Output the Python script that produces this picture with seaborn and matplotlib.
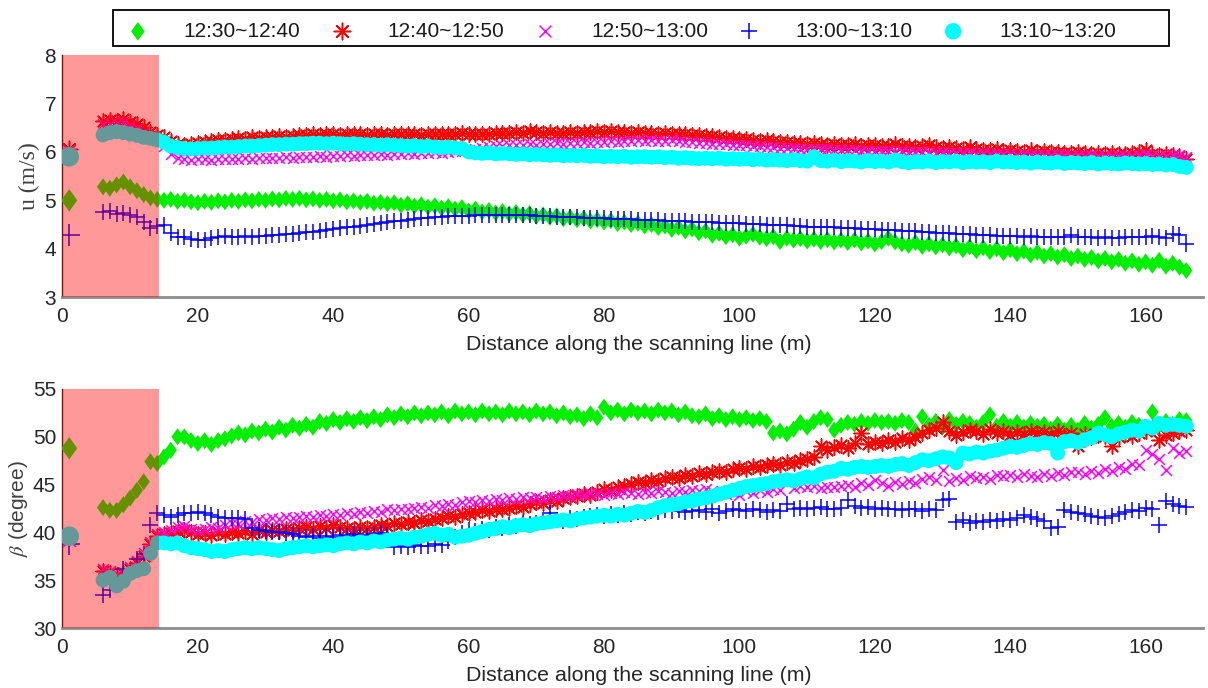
import numpy as np
import matplotlib
matplotlib.use("Agg")
import matplotlib.pyplot as plt
from matplotlib.patches import Rectangle
import seaborn as sns

# ---------------- data ----------------
dist = [1.0] + list(range(6, 167))  # metres along the scanning line

labels = ["12:30~12:40", "12:40~12:50", "12:50~13:00", "13:00~13:10", "13:10~13:20"]

u_1230 = [5.00,
    5.28, 5.25, 5.32, 5.38, 5.28, 5.20, 5.12, 5.05, 5.02, 5.00,
    5.02, 4.98, 5.00, 4.97, 4.95, 4.98, 4.96, 4.99, 4.97, 5.00,
    4.98, 5.01, 4.99, 5.02, 5.00, 5.03, 5.01, 5.04, 5.02, 5.04,
    5.01, 5.03, 5.00, 5.02, 4.99, 5.01, 4.97, 4.99, 4.96, 4.98,
    4.94, 4.96, 4.93, 4.95, 4.90, 4.93, 4.88, 4.91, 4.86, 4.89,
    4.84, 4.87, 4.82, 4.85, 4.78, 4.82, 4.76, 4.79, 4.74, 4.77,
    4.72, 4.75, 4.70, 4.73, 4.67, 4.70, 4.65, 4.68, 4.62, 4.65,
    4.60, 4.63, 4.57, 4.60, 4.55, 4.58, 4.52, 4.55, 4.50, 4.53,
    4.47, 4.50, 4.44, 4.47, 4.40, 4.44, 4.37, 4.41, 4.33, 4.37,
    4.28, 4.32, 4.25, 4.29, 4.22, 4.26, 4.30, 4.24, 4.21, 4.25,
    4.15, 4.22, 4.18, 4.21, 4.16, 4.20, 4.15, 4.19, 4.14, 4.18,
    4.13, 4.18, 4.12, 4.16, 4.10, 4.15, 4.22, 4.14, 4.10, 4.07,
    4.13, 4.05, 4.10, 4.04, 4.08, 4.02, 4.06, 3.98, 4.04, 3.96,
    4.02, 3.94, 4.00, 3.92, 3.98, 3.90, 3.95, 3.87, 3.93, 3.85,
    3.90, 3.83, 3.88, 3.80, 3.85, 3.78, 3.82, 3.75, 3.80, 3.73,
    3.78, 3.70, 3.75, 3.68, 3.73, 3.66, 3.76, 3.64, 3.70, 3.62,
    3.55]

u_1240 = [6.05,
    6.63, 6.65, 6.63, 6.68, 6.62, 6.58, 6.52, 6.42, 6.35, 6.30,
    6.22, 6.17, 6.15, 6.17, 6.18, 6.20, 6.22, 6.24, 6.25, 6.27,
    6.28, 6.27, 6.30, 6.29, 6.31, 6.30, 6.32, 6.31, 6.33, 6.34,
    6.35, 6.36, 6.34, 6.36, 6.37, 6.35, 6.36, 6.38, 6.37, 6.35,
    6.36, 6.37, 6.35, 6.36, 6.38, 6.36, 6.37, 6.35, 6.36, 6.37,
    6.38, 6.36, 6.37, 6.39, 6.37, 6.38, 6.38, 6.37, 6.39, 6.40,
    6.39, 6.41, 6.40, 6.44, 6.42, 6.40, 6.41, 6.39, 6.40, 6.41,
    6.40, 6.42, 6.41, 6.43, 6.42, 6.43, 6.42, 6.41, 6.40, 6.41,
    6.39, 6.40, 6.38, 6.39, 6.37, 6.38, 6.36, 6.35, 6.34, 6.33,
    6.32, 6.30, 6.29, 6.28, 6.27, 6.26, 6.25, 6.23, 6.24, 6.22,
    6.20, 6.21, 6.19, 6.18, 6.17, 6.19, 6.16, 6.15, 6.17, 6.15,
    6.14, 6.16, 6.13, 6.15, 6.14, 6.12, 6.13, 6.16, 6.12, 6.13,
    6.11, 6.12, 6.14, 6.10, 6.09, 6.11, 6.08, 6.05, 6.10, 6.06,
    6.04, 6.03, 6.05, 6.02, 6.04, 6.02, 6.00, 6.03, 5.99, 6.01,
    5.99, 6.00, 5.98, 5.97, 5.99, 5.97, 5.96, 5.98, 5.96, 5.97,
    5.96, 5.95, 5.97, 6.00, 6.03, 5.95, 5.93, 5.96, 5.94, 5.92,
    5.85]

u_1250 = [6.02,
    6.58, 6.57, 6.60, 6.62, 6.55, 6.50, 6.42, 6.32, 6.25, 6.12,
    5.96, 5.88, 5.85, 5.84, 5.86, 5.85, 5.84, 5.86, 5.85, 5.86,
    5.85, 5.87, 5.86, 5.88, 5.87, 5.88, 5.87, 5.89, 5.88, 5.90,
    5.89, 5.90, 5.91, 5.90, 5.92, 5.91, 5.93, 5.92, 5.93, 5.94,
    5.93, 5.95, 5.94, 5.96, 5.95, 5.97, 5.96, 5.98, 5.97, 5.99,
    5.98, 6.00, 6.01, 6.02, 6.04, 6.06, 6.08, 6.10, 6.12, 6.13,
    6.14, 6.15, 6.14, 6.16, 6.15, 6.17, 6.16, 6.18, 6.17, 6.19,
    6.18, 6.20, 6.19, 6.21, 6.20, 6.22, 6.21, 6.23, 6.22, 6.24,
    6.23, 6.24, 6.22, 6.23, 6.24, 6.22, 6.21, 6.20, 6.19, 6.18,
    6.17, 6.16, 6.16, 6.15, 6.14, 6.14, 6.13, 6.12, 6.11, 6.10,
    6.09, 6.08, 6.08, 6.07, 6.06, 6.06, 6.05, 6.05, 6.04, 6.04,
    6.03, 6.03, 6.02, 6.02, 6.01, 6.02, 6.01, 6.00, 6.01, 6.00,
    5.99, 6.00, 5.99, 5.98, 5.99, 5.98, 5.97, 5.98, 5.97, 5.96,
    5.97, 5.96, 5.95, 5.96, 5.95, 5.94, 5.95, 5.94, 5.93, 5.94,
    5.93, 5.94, 5.93, 5.92, 5.93, 5.92, 5.93, 5.92, 5.91, 5.92,
    5.91, 5.92, 5.91, 5.93, 5.95, 5.92, 5.91, 5.92, 5.93, 5.94,
    5.90]

u_1300 = [4.28,
    4.75, 4.77, 4.72, 4.73, 4.70, 4.65, 4.55, 4.42, 4.48, 4.50,
    4.32, 4.25, 4.24, 4.20, 4.18, 4.19, 4.22, 4.25, 4.26, 4.25,
    4.25, 4.26, 4.25, 4.26, 4.27, 4.28, 4.29, 4.30, 4.31, 4.33,
    4.34, 4.35, 4.37, 4.38, 4.40, 4.42, 4.44, 4.46, 4.48, 4.50,
    4.52, 4.54, 4.55, 4.57, 4.58, 4.60, 4.62, 4.63, 4.64, 4.65,
    4.66, 4.67, 4.67, 4.68, 4.68, 4.69, 4.69, 4.70, 4.69, 4.70,
    4.70, 4.69, 4.70, 4.69, 4.68, 4.68, 4.67, 4.66, 4.66, 4.65,
    4.65, 4.64, 4.64, 4.63, 4.63, 4.62, 4.62, 4.61, 4.61, 4.60,
    4.60, 4.59, 4.59, 4.58, 4.58, 4.57, 4.57, 4.56, 4.56, 4.55,
    4.55, 4.54, 4.54, 4.53, 4.53, 4.52, 4.52, 4.51, 4.50, 4.50,
    4.49, 4.49, 4.48, 4.47, 4.46, 4.46, 4.45, 4.44, 4.44, 4.43,
    4.42, 4.42, 4.41, 4.40, 4.40, 4.39, 4.38, 4.38, 4.37, 4.36,
    4.36, 4.35, 4.34, 4.33, 4.32, 4.32, 4.31, 4.30, 4.30, 4.29,
    4.28, 4.28, 4.27, 4.27, 4.26, 4.26, 4.25, 4.26, 4.25, 4.25,
    4.24, 4.25, 4.24, 4.28, 4.25, 4.24, 4.24, 4.23, 4.24, 4.23,
    4.23, 4.24, 4.25, 4.24, 4.25, 4.26, 4.25, 4.22, 4.30, 4.28,
    4.10]

u_1310 = [5.90,
    6.35, 6.40, 6.42, 6.40, 6.37, 6.34, 6.30, 6.28, 6.25, 6.20,
    6.12, 6.09, 6.07, 6.06, 6.07, 6.08, 6.08, 6.09, 6.10, 6.10,
    6.11, 6.12, 6.12, 6.13, 6.14, 6.15, 6.15, 6.16, 6.16, 6.17,
    6.17, 6.18, 6.18, 6.17, 6.18, 6.17, 6.16, 6.17, 6.16, 6.15,
    6.15, 6.14, 6.15, 6.14, 6.13, 6.12, 6.13, 6.11, 6.12, 6.10,
    6.09, 6.10, 6.08, 6.07, 6.00, 5.98, 5.97, 5.98, 5.96, 5.97,
    5.96, 5.95, 5.96, 5.94, 5.95, 5.94, 5.93, 5.94, 5.92, 5.93,
    5.92, 5.93, 5.91, 5.92, 5.90, 5.91, 5.90, 5.91, 5.89, 5.90,
    5.90, 5.89, 5.90, 5.88, 5.89, 5.87, 5.88, 5.87, 5.86, 5.87,
    5.86, 5.87, 5.85, 5.86, 5.85, 5.86, 5.84, 5.85, 5.83, 5.84,
    5.83, 5.82, 5.84, 5.82, 5.81, 5.90, 5.82, 5.81, 5.83, 5.80,
    5.82, 5.81, 5.79, 5.82, 5.80, 5.81, 5.79, 5.83, 5.80, 5.78,
    5.80, 5.79, 5.81, 5.78, 5.80, 5.79, 5.81, 5.78, 5.80, 5.79,
    5.80, 5.78, 5.81, 5.79, 5.80, 5.78, 5.79, 5.77, 5.79, 5.78,
    5.77, 5.79, 5.76, 5.78, 5.77, 5.76, 5.78, 5.75, 5.77, 5.76,
    5.75, 5.77, 5.76, 5.75, 5.76, 5.74, 5.75, 5.73, 5.74, 5.70,
    5.68]

b_1230 = [48.8,
    42.6, 42.3, 42.3, 42.9, 43.6, 44.4, 45.3, 47.4, 47.2, 47.9,
    48.6, 50.0, 50.0, 49.6, 49.3, 49.6, 49.2, 49.6, 49.8, 50.1,
    50.4, 50.2, 50.6, 50.4, 50.8, 50.5, 51.0, 50.7, 51.2, 50.9,
    51.3, 51.0, 51.6, 51.4, 51.8, 51.5, 51.9, 51.6, 52.0, 51.7,
    52.1, 51.8, 52.3, 52.0, 52.4, 52.1, 52.5, 52.2, 52.5, 52.3,
    52.6, 52.2, 52.7, 52.4, 52.6, 52.3, 52.7, 52.4, 52.6, 52.3,
    52.7, 52.4, 52.6, 52.3, 52.7, 52.4, 52.6, 52.2, 52.5, 52.1,
    52.3, 51.9, 52.4, 52.0, 53.1, 52.5, 52.8, 52.4, 52.8, 52.5,
    52.7, 52.4, 52.8, 52.5, 52.7, 52.3, 52.6, 52.2, 52.1, 52.4,
    51.9, 52.2, 51.8, 52.1, 51.8, 52.0, 51.7, 51.9, 51.6, 50.4,
    50.6, 50.3, 50.8, 51.5, 51.0, 51.6, 52.0, 51.8, 50.7, 51.2,
    51.5, 51.3, 51.6, 51.4, 51.7, 51.5, 51.6, 51.4, 51.7, 51.5,
    50.6, 52.1, 51.2, 51.6, 51.0, 51.8, 51.3, 51.6, 51.4, 51.0,
    51.5, 52.3, 51.1, 51.6, 51.1, 51.5, 51.0, 51.4, 51.1, 51.3,
    50.8, 51.3, 50.7, 51.2, 50.7, 51.4, 50.9, 51.3, 52.0, 51.1,
    51.4, 51.0, 51.5, 51.2, 50.8, 52.6, 51.2, 51.6, 51.3, 51.8,
    51.7]

b_1240 = [39.5,
    36.0, 35.8, 35.5, 35.8, 36.2, 36.8, 37.5, 38.8, 39.6, 39.8,
    39.9, 40.1, 40.3, 40.0, 39.8, 39.9, 39.7, 40.0, 39.8, 40.0,
    39.9, 40.1, 39.8, 40.2, 40.0, 40.3, 40.1, 40.4, 40.2, 40.5,
    40.6, 40.4, 40.7, 40.5, 40.8, 40.6, 40.5, 40.4, 40.6, 40.5,
    40.6, 40.8, 40.7, 41.0, 40.9, 41.1, 41.0, 41.3, 41.2, 41.4,
    41.5, 41.7, 41.6, 41.9, 42.0, 42.1, 42.3, 42.2, 42.4, 42.5,
    42.6, 42.8, 42.7, 43.0, 43.2, 43.1, 43.4, 43.3, 43.6, 43.7,
    43.8, 44.0, 43.9, 44.2, 44.5, 44.4, 44.7, 44.9, 45.1, 45.3,
    45.2, 45.5, 45.4, 45.7, 45.8, 45.7, 46.0, 45.9, 46.2, 46.1,
    46.3, 46.4, 46.3, 46.6, 46.7, 46.6, 46.9, 46.8, 47.1, 47.2,
    47.1, 47.4, 47.3, 47.6, 47.7, 47.9, 49.0, 48.6, 48.9, 49.1,
    48.8, 49.3, 50.4, 49.2, 49.5, 49.3, 49.7, 49.5, 49.9, 49.7,
    50.0, 50.4, 50.7, 50.9, 51.6, 50.6, 50.2, 50.5, 50.7, 50.6,
    50.3, 50.8, 50.4, 50.6, 50.2, 50.5, 50.3, 50.6, 50.4, 50.5,
    50.2, 50.6, 50.1, 50.4, 49.0, 50.3, 50.0, 50.2, 50.1, 49.0,
    50.0, 50.3, 50.1, 50.4, 50.6, 50.9, 49.7, 50.2, 50.4, 50.6,
    50.7]

b_1250 = [39.2,
    36.2, 36.0, 35.7, 35.9, 36.4, 37.0, 37.8, 39.0, 39.8, 40.0,
    40.3, 40.6, 40.7, 40.4, 40.2, 40.4, 40.6, 40.5, 40.8, 41.0,
    40.9, 41.2, 41.1, 41.4, 41.3, 41.5, 41.4, 41.6, 41.5, 41.6,
    41.7, 41.6, 41.8, 41.7, 41.9, 41.8, 42.0, 41.9, 42.1, 42.0,
    42.2, 42.1, 42.4, 42.3, 42.5, 42.4, 42.6, 42.7, 42.6, 42.9,
    42.8, 43.0, 42.9, 43.2, 43.3, 43.2, 43.4, 43.3, 43.5, 43.4,
    43.6, 43.5, 43.7, 43.6, 43.7, 43.5, 43.8, 43.7, 43.9, 43.8,
    44.0, 43.9, 44.1, 44.0, 43.9, 44.1, 44.0, 44.2, 44.1, 44.0,
    44.2, 44.1, 44.3, 44.2, 44.1, 44.3, 44.2, 44.4, 44.3, 44.5,
    44.3, 44.1, 44.0, 44.2, 43.9, 44.3, 44.1, 44.4, 44.2, 44.5,
    44.4, 45.3, 44.6, 44.9, 44.7, 44.9, 44.6, 44.8, 44.7, 44.9,
    45.0, 44.8, 45.2, 45.0, 45.5, 45.2, 44.9, 45.3, 45.1, 45.4,
    45.2, 45.6, 45.8, 45.5, 46.5, 45.4, 45.7, 45.5, 45.9, 45.7,
    45.8, 45.6, 46.0, 45.9, 46.0, 45.8, 46.1, 45.9, 45.8, 46.1,
    45.9, 46.2, 46.0, 46.3, 46.3, 46.1, 46.4, 46.2, 46.6, 46.4,
    46.8, 46.6, 47.2, 47.0, 48.6, 48.2, 47.7, 46.5, 48.8, 48.3,
    48.5]

b_1300 = [38.8,
    33.5, 34.0, 34.6, 36.2, 35.8, 37.2, 37.7, 40.8, 42.0, 41.8,
    41.6, 41.8, 42.0, 42.0, 42.1, 42.0, 41.8, 41.6, 41.5, 41.5,
    41.5, 41.4, 40.5, 40.3, 40.1, 40.0, 40.0, 39.9, 39.8, 39.6,
    39.5, 39.6, 39.4, 39.6, 39.5, 39.7, 39.6, 39.8, 39.7, 39.6,
    39.8, 39.9, 39.7, 38.5, 38.6, 38.5, 38.7, 38.6, 38.6, 38.8,
    38.7, 39.1, 39.5, 39.9, 40.2, 40.1, 40.4, 40.3, 40.6, 40.5,
    40.8, 40.7, 41.0, 40.9, 41.0, 41.1, 42.0, 41.3, 41.2, 41.5,
    41.4, 41.6, 41.7, 41.8, 41.7, 41.9, 41.8, 42.0, 41.9, 42.1,
    42.0, 42.2, 42.1, 42.3, 42.2, 42.3, 42.1, 42.2, 42.3, 42.1,
    42.4, 42.0, 42.2, 42.5, 42.3, 42.2, 42.4, 42.3, 42.1, 42.3,
    42.2, 43.0, 42.4, 42.6, 42.5, 42.6, 42.7, 42.5, 42.4, 42.6,
    43.4, 42.8, 42.6, 42.7, 42.5, 42.6, 42.4, 42.5, 42.3, 42.4,
    42.5, 42.2, 42.4, 42.3, 43.4, 43.5, 41.1, 41.3, 41.0, 41.2,
    41.1, 41.3, 41.2, 41.4, 41.3, 41.5, 41.8, 41.6, 41.4, 41.2,
    40.5, 40.6, 42.3, 42.1, 42.0, 41.9, 41.7, 41.6, 41.5, 41.7,
    41.9, 42.1, 42.3, 42.2, 42.6, 42.5, 40.8, 43.3, 43.0, 42.8,
    42.7]

b_1310 = [39.6,
    35.0, 35.3, 34.4, 34.9, 35.7, 36.0, 36.2, 37.8, 38.9, 38.9,
    38.8, 38.9, 38.6, 38.4, 38.3, 38.2, 38.0, 38.1, 38.0, 38.2,
    38.3, 38.4, 38.3, 38.4, 38.3, 38.2, 38.1, 38.3, 38.4, 38.5,
    38.6, 38.5, 38.6, 38.7, 38.6, 38.8, 38.9, 38.8, 39.0, 38.9,
    39.1, 39.0, 39.2, 39.3, 39.4, 39.3, 39.5, 39.6, 39.8, 39.9,
    39.7, 39.8, 39.5, 39.6, 39.7, 39.9, 40.1, 40.3, 40.4, 40.6,
    40.5, 40.7, 40.8, 40.7, 40.9, 41.0, 41.1, 41.2, 41.3, 41.2,
    41.4, 41.5, 41.6, 41.7, 41.8, 41.7, 41.9, 41.8, 42.0, 42.2,
    42.1, 42.3, 42.6, 42.8, 42.9, 43.0, 43.2, 43.3, 43.5, 43.6,
    43.8, 44.0, 44.2, 44.4, 44.6, 44.8, 44.9, 45.0, 45.1, 45.3,
    45.4, 45.5, 45.4, 45.6, 45.8, 45.7, 46.1, 46.3, 46.4, 46.7,
    46.6, 46.8, 46.9, 46.8, 46.9, 47.0, 46.9, 47.1, 47.2, 47.0,
    47.3, 47.6, 47.5, 47.7, 47.9, 47.8, 47.3, 48.3, 48.2, 48.4,
    48.3, 48.5, 48.6, 48.8, 49.0, 48.9, 49.1, 49.3, 49.2, 49.4,
    49.3, 48.3, 49.5, 49.6, 49.4, 49.7, 49.9, 50.4, 50.2, 50.0,
    50.3, 50.5, 50.7, 50.6, 51.1, 50.9, 51.4, 51.2, 51.3, 51.2,
    51.1]

u_series = [u_1230, u_1240, u_1250, u_1300, u_1310]
b_series = [b_1230, b_1240, b_1250, b_1300, b_1310]

# ---------------- style ----------------
diamond = [(0, 1), (0.72, 0), (0, -1), (-0.72, 0), (0, 1)]
colors = ["#00f000", "#ff0000", "#ff00ff", "#0000ff", "#00ffff"]
markers = [diamond, (8, 2, 0), "x", "+", "o"]
filled_flags = [True, False, False, False, True]
sizes = [150, 115, 60, 120, 115]
big_sizes = [260, 140, 85, 230, 200]

sns.set_theme(style="white")
plt.rcParams["font.family"] = ["Liberation Sans", "DejaVu Sans"]
plt.rcParams["mathtext.fontset"] = "stix"

fig = plt.figure(figsize=(12.08, 6.88), dpi=100)
ax_top = fig.add_axes([0.0517, 0.568, 0.9443, 0.352])
ax_bot = fig.add_axes([0.0517, 0.0872, 0.9443, 0.3474])

dist_arr = np.array(dist)


def draw(ax, series_list, with_labels):
    for vals, c, m, filled, s, sb, lab in zip(series_list, colors, markers, filled_flags,
                                               sizes, big_sizes, labels):
        vals = np.array(vals)
        kw = dict(color=c, marker=m, ax=ax, zorder=3)
        if filled:
            kw.update(edgecolor="none", linewidth=0)
        else:
            kw.update(linewidth=1.1)
        sns.scatterplot(x=dist_arr[1:], y=vals[1:], s=s,
                        label=lab if with_labels else None, **kw)
        sns.scatterplot(x=dist_arr[:1], y=vals[:1], s=sb, **kw)
    if ax.get_legend() is not None:
        ax.get_legend().remove()
    ax.axvspan(0, 14.2, color="red", alpha=0.4, lw=0, zorder=5)


draw(ax_top, u_series, True)
draw(ax_bot, b_series, False)

for ax in (ax_top, ax_bot):
    ax.set_xlim(0, 168.5)
    ax.set_xticks(np.arange(0, 161, 20))
    ax.tick_params(axis="x", direction="in", length=8.5, width=1.2,
                   color="#7a7a7a", labelcolor="#262626", labelsize=15, pad=7)
    ax.tick_params(axis="y", direction="in", length=8, width=1,
                   color="#262626", labelcolor="#262626", labelsize=15, pad=4.5)
    for side in ("top", "right"):
        ax.spines[side].set_visible(False)
    ax.spines["left"].set_color("#262626")
    ax.spines["left"].set_linewidth(1.0)
    ax.spines["bottom"].set_color("#8c8c8c")
    ax.spines["bottom"].set_linewidth(2.0)
    ax.set_xlabel("Distance along the scanning line (m)", fontsize=15.4, color="#262626")

ax_top.set_ylim(3, 8)
ax_top.set_yticks(np.arange(3, 9, 1))
ax_bot.set_ylim(30, 55)
ax_bot.set_yticks(np.arange(30, 56, 5))

ax_top.set_ylabel("u (m/s)", fontsize=17, family="Liberation Serif", color="#404040")
ax_bot.set_ylabel(r"$\beta$ (degree)", fontsize=15, color="#404040")
ax_top.yaxis.set_label_coords(-0.0197, 0.5)
ax_bot.yaxis.set_label_coords(-0.0285, 0.5)
ax_top.xaxis.set_label_coords(0.505, -0.157)
ax_bot.xaxis.set_label_coords(0.505, -0.159)

# legend frame drawn separately so entries can keep the reference spacing
fig.patches.append(Rectangle((113 / 1208, 1 - 46 / 688), (1169 - 113) / 1208, 36 / 688,
                             transform=fig.transFigure, facecolor="white",
                             edgecolor="black", linewidth=1.3, zorder=0))

handles, labs = ax_top.get_legend_handles_labels()
leg = fig.legend(handles, labs, ncol=5, mode="expand",
                 bbox_to_anchor=(116 / 1208, 1 - 46 / 688, 1005 / 1208, 36 / 688),
                 loc="lower left", fontsize=15, frameon=False,
                 borderaxespad=0, handlelength=1.6, handletextpad=1.4, borderpad=0.25,
                 markerscale=1.1)
for t in leg.get_texts():
    t.set_color("#1a1a1a")

fig.savefig("out.png", dpi=100)
